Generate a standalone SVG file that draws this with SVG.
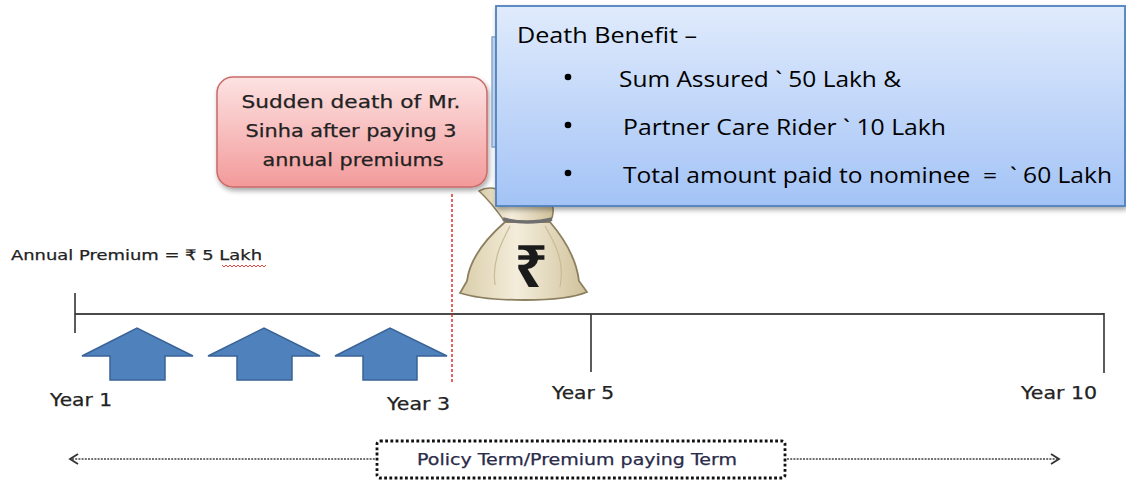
<svg xmlns="http://www.w3.org/2000/svg" width="1126" height="481" viewBox="0 0 1126 481">
<defs>
  <linearGradient id="gBlue" x1="0" y1="0" x2="0" y2="1">
    <stop offset="0" stop-color="#e0ebfc"/>
    <stop offset="1" stop-color="#a3c3f6"/>
  </linearGradient>
  <linearGradient id="gPink" x1="0" y1="0" x2="0" y2="1">
    <stop offset="0" stop-color="#fde2e2"/>
    <stop offset="1" stop-color="#f39a9a"/>
  </linearGradient>
  <linearGradient id="gBag" x1="0" y1="0" x2="1" y2="0">
    <stop offset="0" stop-color="#d9cda9"/>
    <stop offset="0.45" stop-color="#f4eddb"/>
    <stop offset="1" stop-color="#cfc19a"/>
  </linearGradient>
  <filter id="shadow" x="-5%" y="-10%" width="112%" height="130%">
    <feDropShadow dx="1.5" dy="3" stdDeviation="2.5" flood-color="#000" flood-opacity="0.35"/>
  </filter>
  <style>
    .cal { font-family: "Open Sans", "Noto Sans", sans-serif; fill: #000; }
    .tah { font-family: "DejaVu Sans", "Liberation Sans", sans-serif; fill: #222; stroke: #222; stroke-width: 0.25; }
    .tick { stroke: #333; stroke-width: 1.6; fill: none; }
    .uparrow { fill: #4f81bd; stroke: #3a6397; stroke-width: 1.5; }
    .dash { stroke: #444; stroke-width: 1.5; stroke-dasharray: 2 1.2; fill: none; }
    .head { stroke: #333; stroke-width: 1.8; fill: none; }
  </style>
</defs>
<rect width="1126" height="481" fill="#fff"/>

<g id="premium-label">
  <text class="tah" x="11" y="260" font-size="14.5" textLength="251" lengthAdjust="spacingAndGlyphs">Annual Premium = ₹ 5 Lakh</text>
  <path d="M222,265 l2,2 l2,-2 l2,2 l2,-2 l2,2 l2,-2 l2,2 l2,-2 l2,2 l2,-2 l2,2 l2,-2 l2,2 l2,-2 l2,2 l2,-2 l2,2 l2,-2 l2,2 l2,-2 l2,2 l2,-2" fill="none" stroke="#e53030" stroke-width="0.9"/>
</g>

<g id="timeline">
  <line x1="75" y1="314" x2="1104" y2="314" stroke="#4a4a4a" stroke-width="2"/>
  <line class="tick" x1="75" y1="293" x2="75" y2="333"/>
  <line class="tick" x1="591" y1="314" x2="591" y2="372"/>
  <line class="tick" x1="1104" y1="313" x2="1104" y2="373"/>
</g>

<g id="premium-arrows">
  <polygon class="uparrow" points="82,356 137,328 193,356 165,356 165,380 110,380 110,356"/>
  <polygon class="uparrow" points="208,356 264,328 320,356 292,356 292,380 237,380 237,356"/>
  <polygon class="uparrow" points="335,356 390,328 447,356 417,356 417,380 363,380 363,356"/>
</g>

<g id="year-labels">
  <text class="tah" x="50" y="406" font-size="17" textLength="62" lengthAdjust="spacingAndGlyphs">Year 1</text>
  <text class="tah" x="387" y="410" font-size="17" textLength="63" lengthAdjust="spacingAndGlyphs">Year 3</text>
  <text class="tah" x="552" y="399" font-size="17" textLength="62" lengthAdjust="spacingAndGlyphs">Year 5</text>
  <text class="tah" x="1021" y="399" font-size="17" textLength="76" lengthAdjust="spacingAndGlyphs">Year 10</text>
</g>

<g id="death-marker">
  <line x1="452" y1="194" x2="452" y2="382" stroke="#e02020" stroke-width="1.4" stroke-dasharray="3 2"/>
</g>

<g id="money-bag">
  <path d="M505,222 C498,212 489,200 479,191 C487,186 497,188 506,193 L546,193 C553,202 556,212 550,222 Z" fill="url(#gBag)" stroke="#8c7f5f" stroke-width="1.5"/>
  <path d="M505,222 C489,236 470,256 467,281 L460,293 C475,298 500,300 525,300 C550,300 573,298 587,292 L579,281 C576,256 562,236 550,222 Z" fill="url(#gBag)" stroke="#8c7f5f" stroke-width="1.8"/>
  <path d="M503,219 C518,223 537,223 552,219" fill="none" stroke="#6f6f6f" stroke-width="3.5"/>
  <path d="M510,226 C500,245 492,262 495,285" fill="none" stroke="#c8bb95" stroke-width="1.2"/>
  <path d="M545,226 C556,245 565,262 560,287" fill="none" stroke="#c8bb95" stroke-width="1.2"/>
  <text x="531" y="287" font-family="Noto Sans, DejaVu Sans, sans-serif" font-size="58" font-weight="bold" fill="#1b1b1b" text-anchor="middle">₹</text>
</g>

<g id="death-note">
  <rect x="217" y="77" width="270" height="110" rx="16" fill="url(#gPink)" stroke="#c96a68" stroke-width="1.5" filter="url(#shadow)"/>
  <text class="tah" x="351" y="108" font-size="17.5" text-anchor="middle" textLength="219" lengthAdjust="spacingAndGlyphs">Sudden death of Mr.</text>
  <text class="tah" x="351" y="137" font-size="17.5" text-anchor="middle" textLength="211" lengthAdjust="spacingAndGlyphs">Sinha after paying 3</text>
  <text class="tah" x="353" y="166" font-size="17.5" text-anchor="middle" textLength="181" lengthAdjust="spacingAndGlyphs">annual premiums</text>
</g>

<g id="back-box">
  <rect x="492" y="37" width="40" height="110" fill="#c9dbf5" stroke="#8aa9d4" stroke-width="1.5"/>
</g>

<g id="death-benefit">
  <rect x="496" y="6" width="629" height="200" fill="url(#gBlue)" stroke="#4f81bd" stroke-width="1.8" filter="url(#shadow)"/>
  <text class="cal" x="517" y="43" font-size="21.5" textLength="180" lengthAdjust="spacingAndGlyphs">Death Benefit –</text>
  <circle cx="568" cy="77" r="3.3" fill="#000"/>
  <circle cx="568" cy="125" r="3.3" fill="#000"/>
  <circle cx="568" cy="173" r="3.3" fill="#000"/>
  <text class="cal" x="619" y="87" font-size="21.5" textLength="282" lengthAdjust="spacingAndGlyphs">Sum Assured ` 50 Lakh &amp;</text>
  <text class="cal" x="623" y="135" font-size="21.5" textLength="323" lengthAdjust="spacingAndGlyphs">Partner Care Rider ` 10 Lakh</text>
  <text class="cal" x="623" y="183" font-size="21.5" textLength="489" lengthAdjust="spacingAndGlyphs" xml:space="preserve">Total amount paid to nominee  =  ` 60 Lakh</text>
</g>

<g id="connectors">
  <line class="dash" x1="72" y1="459" x2="376" y2="459"/>
  <polyline class="head" points="78,454 70,459 78,464"/>
  <line class="dash" x1="787" y1="459" x2="1057" y2="459"/>
  <polyline class="head" points="1051,454 1059,459 1051,464"/>
</g>

<g id="policy-term">
  <rect x="377" y="441" width="408" height="37" rx="3" fill="#fff" stroke="#111" stroke-width="2.8" stroke-dasharray="2.8 2.4"/>
  <text class="tah" x="417" y="465" font-size="15" style="fill:#2b2b4a;stroke:#2b2b4a" textLength="320" lengthAdjust="spacingAndGlyphs">Policy Term/Premium paying Term</text>
</g>
</svg>
